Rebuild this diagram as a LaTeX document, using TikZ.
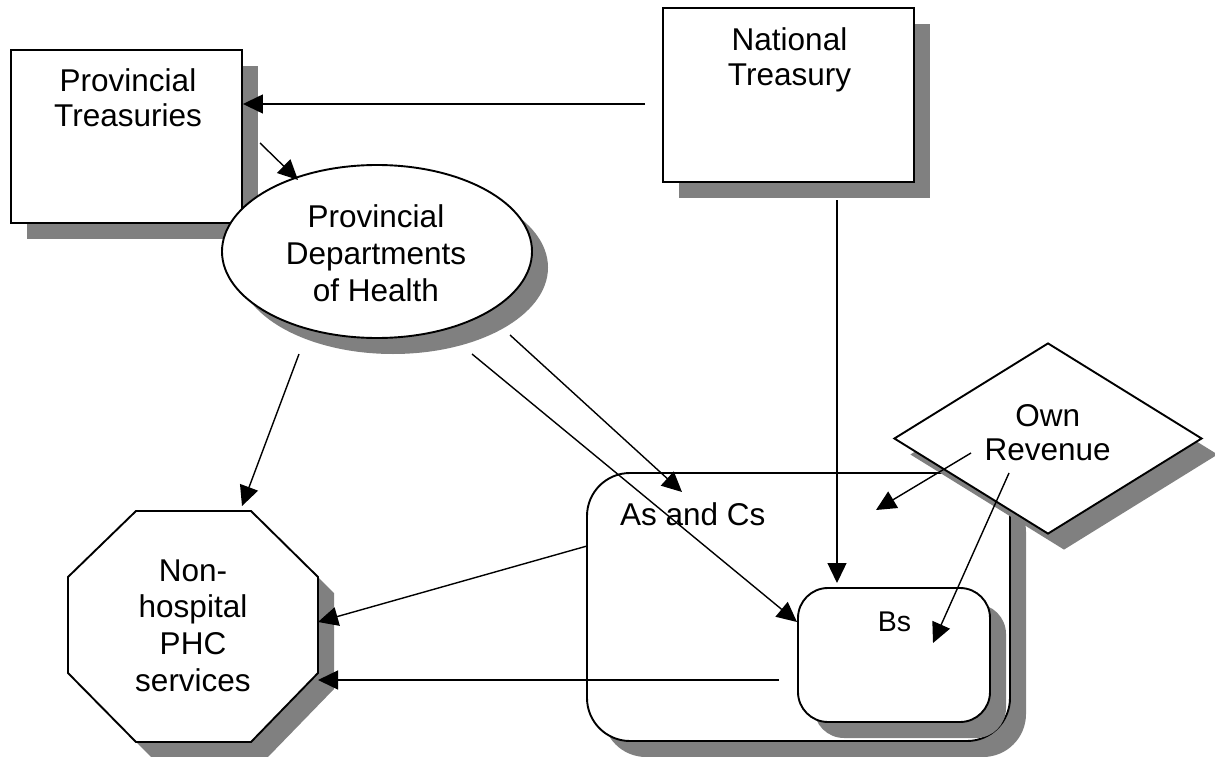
\documentclass[tikz,border=0pt]{standalone}
\usepackage{fontspec}
\setmainfont{Liberation Sans}
\usetikzlibrary{shapes.geometric,shadows,arrows.meta}
\definecolor{shd}{RGB}{128,128,128}
\begin{document}
\begin{tikzpicture}[x=1pt,y=-1pt,
  box/.style={draw=black,fill=white,line width=1.9pt,inner sep=0pt,
    drop shadow={shadow xshift=16pt,shadow yshift=-16pt,fill=shd,opacity=1}},
  lbl/.style={inner sep=0pt,align=center,font=\fontsize{31.5}{36}\selectfont},
  arr/.style={line width=1.4pt,-{Triangle[length=20pt,width=19pt]}}]
\useasboundingbox[fill=white] (0,0) rectangle (1215,757);
% Provincial Treasuries
\node[box,minimum width=231pt,minimum height=173pt] (pt) at (126.5,136.5) {};
\node[lbl,font=\fontsize{31.5}{35}\selectfont] (ptt) at (128,97.4) {Provincial\\Treasuries};
% National Treasury
\node[box,minimum width=251pt,minimum height=174pt] (nt) at (788.5,95) {};
\node[lbl,font=\fontsize{31.5}{35}\selectfont] (ntt) at (789.5,59.7) {National\\Treasury};
% Provincial Departments of Health
\node[box,ellipse,minimum width=310pt,minimum height=173pt] (phd) at (377,251.5) {};
\node[lbl,font=\fontsize{31.5}{37}\selectfont] (phdt) at (376,253) {Provincial\\Departments\\of Health};
% Non-hospital PHC services
\filldraw[box] (136,511) -- (251,511) -- (318,577) -- (318,673) -- (251,742) -- (136,742) -- (68,673) -- (68,577) -- cycle;
\node[lbl,font=\fontsize{31.5}{36.7}\selectfont] (oct) at (193,625.6) {Non-\\hospital\\PHC\\services};
% As and Cs
\node[box,rounded corners=43pt,minimum width=423pt,minimum height=268pt] (acs) at (798.5,607) {};
\node[inner sep=0pt,anchor=base west,font=\fontsize{31.5}{36}\selectfont] (acst) at (620,525) {As and Cs};
% Bs
\node[box,rounded corners=30pt,minimum width=192pt,minimum height=134pt] (bs) at (894,655) {};
\node[inner sep=0pt,anchor=base west,font=\fontsize{28.5}{32}\selectfont] (bst) at (877.7,631.7) {Bs};
% Own Revenue
\node[box,diamond,minimum width=308pt,minimum height=191pt] (own) at (1048,438.5) {};
\node[lbl,font=\fontsize{31.5}{34.3}\selectfont] (ownt) at (1047.7,432.8) {Own\\Revenue};
% connector end points
\coordinate (ntw) at (645,104);
\coordinate (pta) at (260,143);
\coordinate (phdin) at (298,180);
\coordinate (ntb) at (837,200);
\coordinate (bstop) at (837,583);
\coordinate (phd1) at (299,354);
\coordinate (octtop) at (242,506);
\coordinate (phd2) at (510,335);
\coordinate (acsin) at (682,492);
\coordinate (phd3) at (472,354);
\coordinate (bsleft) at (797,622);
\coordinate (own1) at (971,453);
\coordinate (acsin2) at (876,510);
\coordinate (own2) at (1009,473);
\coordinate (bsin) at (933,643);
\coordinate (acsl) at (587,546);
\coordinate (octr1) at (318,622);
\coordinate (bsout) at (779,680);
\coordinate (octr2) at (318,680);
% connectors
\draw[arr] (ntw) -- (pt.east |- ntw);
\draw[arr] (pta) -- (phdin);
\draw[arr] (ntb) -- (bstop);
\draw[arr] (phd1) -- (octtop);
\draw[arr] (phd2) -- (acsin);
\draw[arr] (phd3) -- (bsleft);
\draw[arr] (own1) -- (acsin2);
\draw[arr] (own2) -- (bsin);
\draw[arr] (acsl) -- (octr1);
\draw[arr] (bsout) -- (octr2);
\end{tikzpicture}
\end{document}
